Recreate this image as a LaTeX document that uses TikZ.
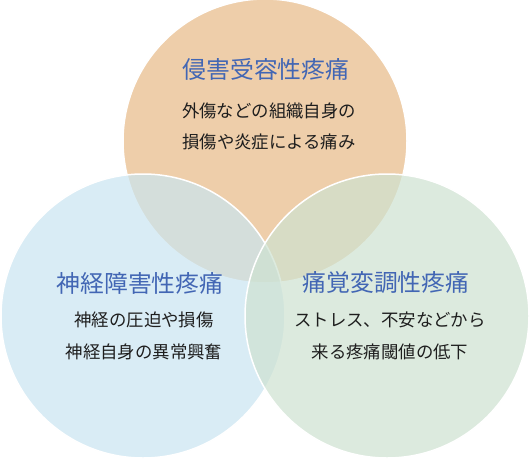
\documentclass[tikz,border=0pt]{standalone}
\usepackage{fontspec}
\newfontfamily\cjk{Noto Sans CJK JP}
\definecolor{orangeC}{RGB}{232,186,134}
\definecolor{blueC}{RGB}{202,229,241}
\definecolor{greenC}{RGB}{206,226,209}
\definecolor{titleC}{RGB}{66,102,180}
\definecolor{bodyC}{RGB}{30,30,30}
\begin{document}
\begin{tikzpicture}[x=1pt,y=-1pt,
  circ/.style={draw=white,line width=1.5pt,fill opacity=0.7},
  ttl/.style={font=\cjk\fontsize{23.8}{27}\selectfont,text=titleC,inner sep=0pt},
  bdy/.style={font=\cjk\fontsize{17.4}{20}\selectfont,text=bodyC,inner sep=0pt}]
\useasboundingbox (0,0) rectangle (530,461);
\fill[white] (0,0) rectangle (530,461);
\draw[circ,fill=orangeC] (265,141) circle[radius=142];
\draw[circ,fill=blueC] (143,316) circle[radius=142];
\draw[circ,fill=greenC] (387,316) circle[radius=142];
\node[ttl] (t1) at (266,69) {侵害受容性疼痛};
\node[bdy] (b1a) at (269,111) {外傷などの組織自身の};
\node[bdy] (b1b) at (269,142) {損傷や炎症による痛み};
\node[ttl] (t2) at (140,283) {神経障害性疼痛};
\node[bdy] (b2a) at (144,320) {神経の圧迫や損傷};
\node[bdy] (b2b) at (144,352) {神経自身の異常興奮};
\node[ttl] (t3) at (386,283) {痛覚変調性疼痛};
\node[bdy] (b3a) at (390,320) {ストレス、不安などから};
\node[bdy] (b3b) at (390,352) {来る疼痛閾値の低下};
\end{tikzpicture}
\end{document}
